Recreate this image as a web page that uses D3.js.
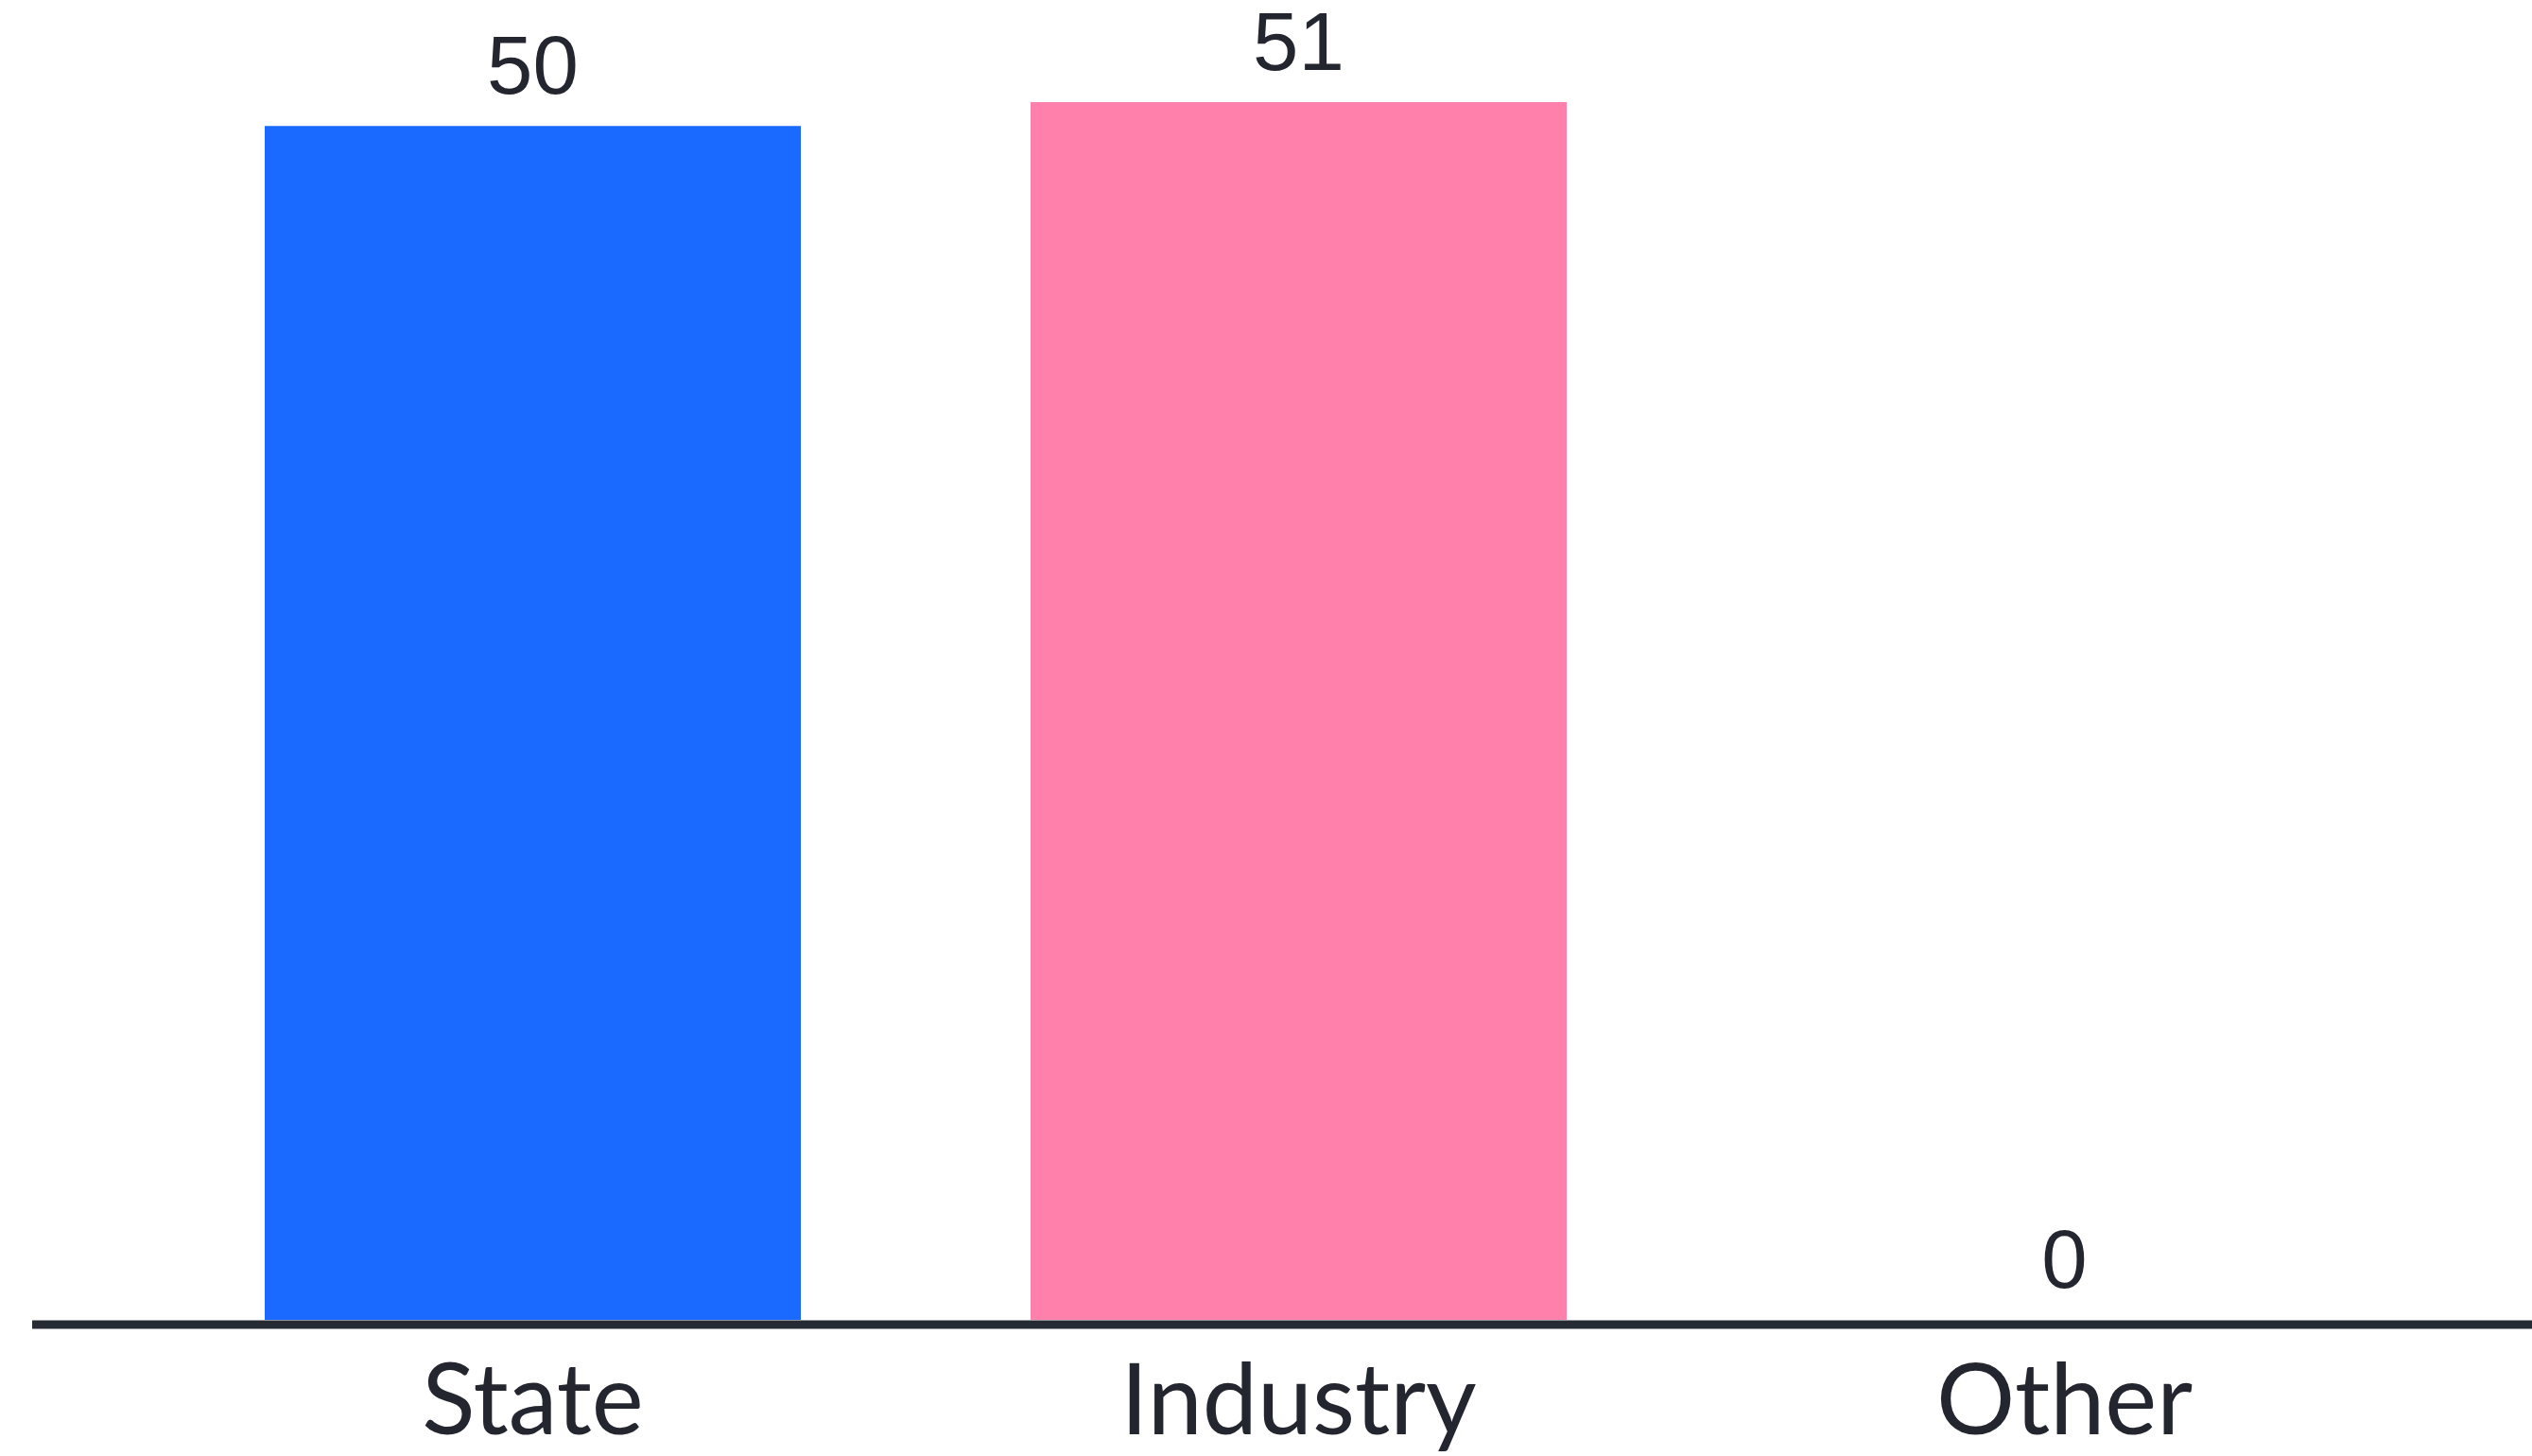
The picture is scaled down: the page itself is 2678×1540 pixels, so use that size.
<!DOCTYPE html>
<html>
<head>
<meta charset="utf-8">
<script src="https://cdn.jsdelivr.net/npm/d3@7"></script>
<style>
  html, body { margin: 0; padding: 0; background: #ffffff; }
  svg { display: block; }
</style>
</head>
<body>
<svg id="chart" width="2678" height="1540"></svg>
<script>
const categories = ["State", "Industry", "Other"];
const values = [50, 51, 0];
const barColors = ["#1b6aff", "#ff80aa", "#9aa0a6"];

const W = 2678, H = 1540;
const svg = d3.select("#chart");

const x = d3.scaleBand()
  .domain(categories)
  .range([158.5, 2588.5])
  .paddingInner(0.3)
  .paddingOuter(0.15);

const y = d3.scaleLinear()
  .domain([0, 51])
  .range([1396, 108]);

// bars
svg.append("g").selectAll("rect")
  .data(categories)
  .join("rect")
  .attr("x", d => x(d))
  .attr("width", x.bandwidth())
  .attr("y", (d, i) => y(values[i]))
  .attr("height", (d, i) => y(0) - y(values[i]))
  .attr("fill", (d, i) => barColors[i]);

// value labels
svg.append("g").selectAll("text")
  .data(categories)
  .join("text")
  .attr("x", d => x(d) + x.bandwidth() / 2)
  .attr("y", (d, i) => y(values[i]) - 34)
  .attr("text-anchor", "middle")
  .attr("font-family", "'Liberation Sans', Arial, sans-serif")
  .attr("font-size", 87)
  .attr("fill", "#23262e")
  .text((d, i) => values[i]);

// x axis
const xAxis = d3.axisBottom(x).tickSize(0).tickPadding(0);
const gx = svg.append("g")
  .attr("transform", `translate(0, ${y(0) + 5})`)
  .call(xAxis);
gx.select(".domain").remove();
gx.selectAll(".tick text")
  .attr("dy", 0)
  .attr("y", 116)
  .attr("font-family", "Lato, 'Open Sans', sans-serif")
  .attr("font-size", 104)
  .attr("fill", "#23262e");

svg.append("line")
  .attr("x1", 34)
  .attr("x2", W)
  .attr("y1", y(0) + 5)
  .attr("y2", y(0) + 5)
  .attr("stroke", "#262a33")
  .attr("stroke-width", 9);
</script>
</body>
</html>
